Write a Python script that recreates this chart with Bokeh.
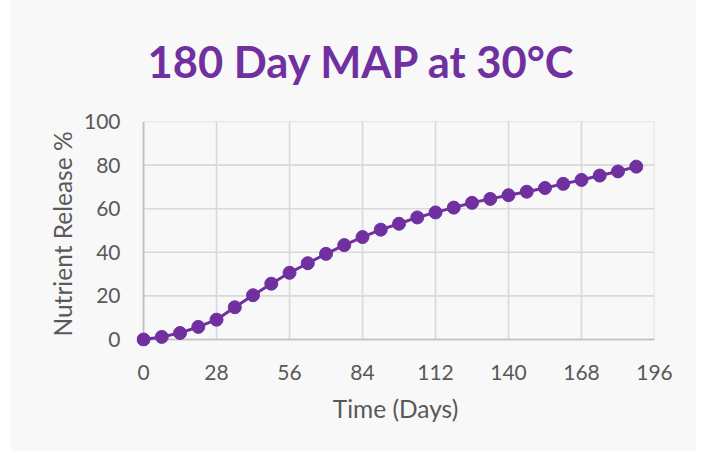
from bokeh.plotting import figure
from bokeh.models import Range1d, FixedTicker
from bokeh.embed import file_html
from bokeh.resources import INLINE

days = [0, 7, 14, 21, 28, 35, 42, 49, 56, 63, 70, 77, 84, 91, 98, 105, 112,
        119, 126, 133, 140, 147, 154, 161, 168, 175, 182, 189]
release = [0, 1.2, 3.0, 5.8, 9.1, 14.8, 20.3, 25.6, 30.6, 35.0, 39.3, 43.3,
           47.0, 50.4, 53.1, 56.0, 58.3, 60.5, 62.7, 64.5, 66.2, 67.8, 69.5,
           71.4, 73.2, 75.2, 77.1, 79.3]
x_ticks = [0, 28, 56, 84, 112, 140, 168, 196]
y_ticks = [0, 20, 40, 60, 80, 100]
title_text = "180 Day MAP at 30°C"

PURPLE = "#7030a0"
TEXT = "#595959"
BG = "#f8f8f8"
GRID = "#d9d9d9"
AXIS = "#bfbfbf"

x0, x1 = x_ticks[0], x_ticks[-1]
y0, y1 = y_ticks[0], y_ticks[-1]

# small padding on the low side so the first marker is not clipped
p = figure(width=686, height=455, output_backend="svg", toolbar_location=None,
           x_range=Range1d(x0 - 2.7, x1), y_range=Range1d(y0 - 3.2, y1),
           title=title_text,
           min_border_left=126, min_border_right=42,
           min_border_top=125, min_border_bottom=105)
p.margin = (-4, 0, 0, 10)

p.background_fill_color = BG
p.border_fill_color = BG
p.outline_line_color = None

p.title.align = "left"
p.title.offset = 11
p.title.text_color = PURPLE
p.title.text_font = "Lato"
p.title.text_font_style = "bold"
p.title.text_font_size = "43.5px"
p.title.standoff = 70

for ax in (p.xaxis, p.yaxis):
    ax.major_tick_line_color = None
    ax.minor_tick_line_color = None
    ax.axis_line_color = None
    ax.major_label_text_font = "Lato"
    ax.major_label_text_font_size = "21px"
    ax.major_label_text_color = TEXT
    ax.axis_label_text_font = "Lato"
    ax.axis_label_text_font_size = "24.5px"
    ax.axis_label_text_font_style = "normal"
    ax.axis_label_text_color = TEXT

p.xaxis.ticker = FixedTicker(ticks=x_ticks)
p.yaxis.ticker = FixedTicker(ticks=y_ticks)
p.xaxis.axis_label = "Time (Days)"
p.yaxis.axis_label = "Nutrient Release %"
p.xaxis.major_label_standoff = 12
p.yaxis.major_label_standoff = 10
p.xaxis.axis_label_standoff = 11
p.yaxis.axis_label_standoff = 4

p.xgrid.visible = False
p.ygrid.visible = False

# gridlines at the tick positions
p.segment(x0=x_ticks, y0=[y0] * len(x_ticks), x1=x_ticks, y1=[y1] * len(x_ticks),
          line_color=GRID, line_width=1.6)
p.segment(x0=[x0] * len(y_ticks), y0=y_ticks, x1=[x1] * len(y_ticks), y1=y_ticks,
          line_color=GRID, line_width=1.6)
# axis lines
p.segment(x0=[x0, x0], y0=[y0, y0], x1=[x0, x1], y1=[y1, y0],
          line_color=AXIS, line_width=1.6)

p.line(days, release, line_color=PURPLE, line_width=3)
p.scatter(days, release, size=13, fill_color=PURPLE, line_color=PURPLE)

open("out.html", "w").write(file_html(p, INLINE))
